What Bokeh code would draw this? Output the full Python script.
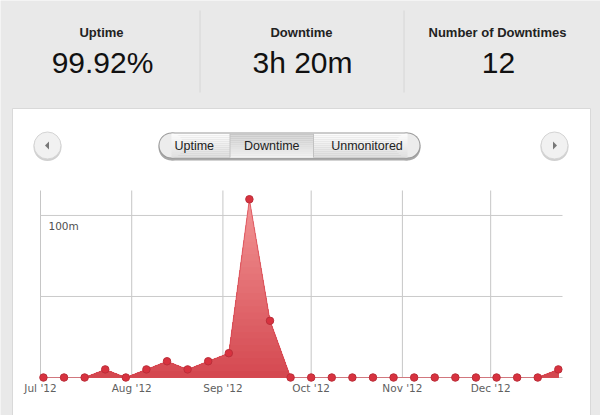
from datetime import datetime
import numpy as np
from bokeh.plotting import figure
from bokeh.models import Range1d, ColumnDataSource
from bokeh.core.properties import value
from bokeh.embed import file_html
from bokeh.resources import INLINE

# ---------------- data ----------------
week_dates = ["2012-07-02", "2012-07-09", "2012-07-16", "2012-07-23", "2012-07-30",
              "2012-08-06", "2012-08-13", "2012-08-20", "2012-08-27", "2012-09-03",
              "2012-09-10", "2012-09-17", "2012-09-24", "2012-10-01", "2012-10-08",
              "2012-10-15", "2012-10-22", "2012-10-29", "2012-11-05", "2012-11-12",
              "2012-11-19", "2012-11-26", "2012-12-03", "2012-12-10", "2012-12-17",
              "2012-12-24"]
downtime_minutes = [0, 0, 0, 5, 0, 5, 10, 5, 10, 15, 110, 35, 0,
                    0, 0, 0, 0, 0, 0, 0, 0, 0, 0, 0, 0, 5]
month_ticks = ["2012-07-01", "2012-08-01", "2012-09-01", "2012-10-01", "2012-11-01", "2012-12-01"]
y_grid_ticks = [0, 50, 100]
y_label_values = [100]
y_label_texts = ["100m"]
stat_titles = ["Uptime", "Downtime", "Number of Downtimes"]
stat_values = ["99.92%", "3h 20m", "12"]
button_labels = ["Uptime", "Downtime", "Unmonitored"]
x_start, x_end = "2012-07-01", "2012-12-25 10:00"
y_max = 115.4

# ---------------- layout constants (pixels) ----------------
W, H = 600, 415
PL, PR, PT, PB = 40, 562, 190, 377   # plot area inside the card
BG = "#e9e9e9"

def ms(s):
    return datetime.fromisoformat(s).timestamp() * 1000.0

xs = np.array([ms(d) for d in week_dates])
ys = np.array(downtime_minutes, dtype=float)
t0, t1 = ms(x_start), ms(x_end)

# ---------------- figure: frame covers the full canvas in pixel units ----------------
p = figure(width=W, height=H, x_range=Range1d(0, W), y_range=Range1d(H, 0),
           x_axis_location=None, y_axis_location=None,
           output_backend="svg", toolbar_location=None, min_border=0,
           background_fill_color=BG, border_fill_color=BG, outline_line_color=None)
p.title.visible = False
p.grid.visible = False

# data ranges mapped onto the plot area of the card
tpp = (t1 - t0) / (PR - PL)
ypp = y_max / (PB - PT)
p.extra_x_ranges = {"time": Range1d(t0 - PL * tpp, t1 + (W - PR) * tpp)}
p.extra_y_ranges = {"min": Range1d(-(H - PB) * ypp, y_max + PT * ypp)}
D = dict(x_range_name="time", y_range_name="min")

# ---------------- page decorations ----------------
# white card
p.quad(left=[12], right=[590], top=[108], bottom=[420], fill_color="white", line_color="#d9d9d9")

# stats header
stat_centers = [101, 301, 497]
p.text(x=stat_centers, y=[32] * 3, text=stat_titles, text_align="center", text_baseline="middle",
       text_font=value("Liberation Sans"), text_font_size="13px", text_font_style="bold",
       text_color="#222222")
p.text(x=[c + 1 for c in stat_centers], y=[62] * 3, text=stat_values, text_align="center",
       text_baseline="middle", text_font=value("Liberation Sans"), text_font_size="30px",
       text_color="#111111")
p.segment(x0=[199.5, 403.5], x1=[199.5, 403.5], y0=[10, 10], y1=[92, 92],
          line_color="#d6d6d6", line_width=1)

# round arrow buttons
for cx, d in ((47, -1), (554, 1)):
    p.scatter(x=[cx], y=[146.5], size=28, marker="circle", fill_color="#d0d0d0", line_color=None)
    p.scatter(x=[cx], y=[145], size=27, marker="circle", fill_color="#f1f1f1", line_color="#d4d4d4")
    tip = cx + 2.5 * d
    p.patch(x=[tip, tip - 4 * d, tip - 4 * d], y=[145, 141, 149], fill_color="#777777", line_color=None)

# segmented control (pill)
gl, gr, gt, gb, r = 158, 420, 132, 158, 13
seg = [158, 229.5, 313, 420]
cy = (gt + gb) / 2
# shadow
p.scatter(x=[gl + r, gr - r], y=[cy + 2] * 2, size=2 * r, marker="circle", fill_color="#a8a8a8", line_color=None)
p.quad(left=[gl + r], right=[gr - r], top=[gt + 2], bottom=[gb + 2], fill_color="#a8a8a8", line_color=None)
# border
p.scatter(x=[gl + r, gr - r], y=[cy] * 2, size=2 * r, marker="circle", fill_color="#9a9a9a", line_color=None)
p.quad(left=[gl + r], right=[gr - r], top=[gt], bottom=[gb], fill_color="#9a9a9a", line_color=None)
# inner fill
p.scatter(x=[gl + r, gr - r], y=[cy] * 2, size=2 * r - 2, marker="circle", fill_color="#ececec", line_color=None)
n_str = 12
hs = (gb - gt - 2) / n_str
for i in range(n_str):
    f = i / (n_str - 1)
    c_norm = int(round(252 - 28 * f))
    c_sel = int(round(200 + 42 * f))
    p.quad(left=[gl + r], right=[gr - r], top=[gt + 1 + i * hs], bottom=[gt + 1 + (i + 1) * hs + 0.3],
           fill_color="#%02x%02x%02x" % (c_norm, c_norm, c_norm), line_color=None)
    p.quad(left=[seg[1]], right=[seg[2]], top=[gt + 1 + i * hs], bottom=[gt + 1 + (i + 1) * hs + 0.3],
           fill_color="#%02x%02x%02x" % (c_sel, c_sel, c_sel), line_color=None)
p.segment(x0=[seg[1], seg[2]], x1=[seg[1], seg[2]], y0=[gt + 1] * 2, y1=[gb - 1] * 2,
          line_color="#c2c2c2", line_width=1)
p.text(x=[(seg[i] + seg[i + 1]) / 2 for i in range(3)], y=[cy] * 3, text=button_labels,
       text_align="center", text_baseline="middle", text_font=value("Liberation Sans"),
       text_font_size="12.5px", text_color="#222222")

# ---------------- chart ----------------
tick_ms = [ms(t) for t in month_ticks]
tick_labels = [datetime.fromisoformat(t).strftime("%b '%y") for t in month_ticks]

# grid
p.segment(x0=tick_ms, x1=tick_ms, y0=[0] * len(tick_ms), y1=[y_max] * len(tick_ms),
          line_color="#c6c6c6", line_width=1, **D)
p.segment(x0=[t0] * len(y_grid_ticks), x1=[t1] * len(y_grid_ticks), y0=y_grid_ticks, y1=y_grid_ticks,
          line_color="#cacaca", line_width=1, **D)

# gradient-filled area: stacked layers, lighter on top
def clipped(xv, yv, lvl):
    bx = list(xv)
    for i in range(len(xv) - 1):
        y0, y1 = yv[i], yv[i + 1]
        if (y0 - lvl) * (y1 - lvl) < 0:
            bx.append(xv[i] + (lvl - y0) / (y1 - y0) * (xv[i + 1] - xv[i]))
    bx = np.array(sorted(bx))
    return bx, np.minimum(np.interp(bx, xv, yv), lvl)

bot_c, top_c = (212, 72, 80), (243, 150, 150)
levels = np.linspace(120, 4, 30)
for lvl in levels:
    t = min(1.0, max(0.0, (lvl - 2) / 112))
    col = "#%02x%02x%02x" % tuple(int(round(a + (b - a) * t)) for a, b in zip(bot_c, top_c))
    bx, by = clipped(xs, ys, lvl)
    p.varea(x=bx, y1=np.zeros_like(by), y2=by, fill_color=col, **D)
bx, by = clipped(xs, ys, 4)
p.varea(x=bx, y1=np.zeros_like(by), y2=by, fill_color="#d44850", **D)

src = ColumnDataSource(dict(x=xs, y=ys))
p.line("x", "y", source=src, line_color="#d6404b", line_alpha=0.6, line_width=1.1, **D)
p.scatter("x", "y", source=src, size=7.5, fill_color="#d8323f", line_color="#bb2f3a", line_width=1, **D)

# axis labels
p.text(x=tick_ms, y=[0] * len(tick_ms), text=tick_labels, y_offset=10,
       text_align="center", text_baseline="middle", text_font=value("DejaVu Sans"),
       text_font_size="10.5px", text_color="#606060", **D)
p.text(x=[t0] * len(y_label_values), y=y_label_values, text=y_label_texts,
       x_offset=8, y_offset=5, text_baseline="top", text_align="left",
       text_font=value("DejaVu Sans"), text_font_size="10.5px", text_color="#505050", **D)

open("out.html", "w").write(file_html(p, INLINE))
